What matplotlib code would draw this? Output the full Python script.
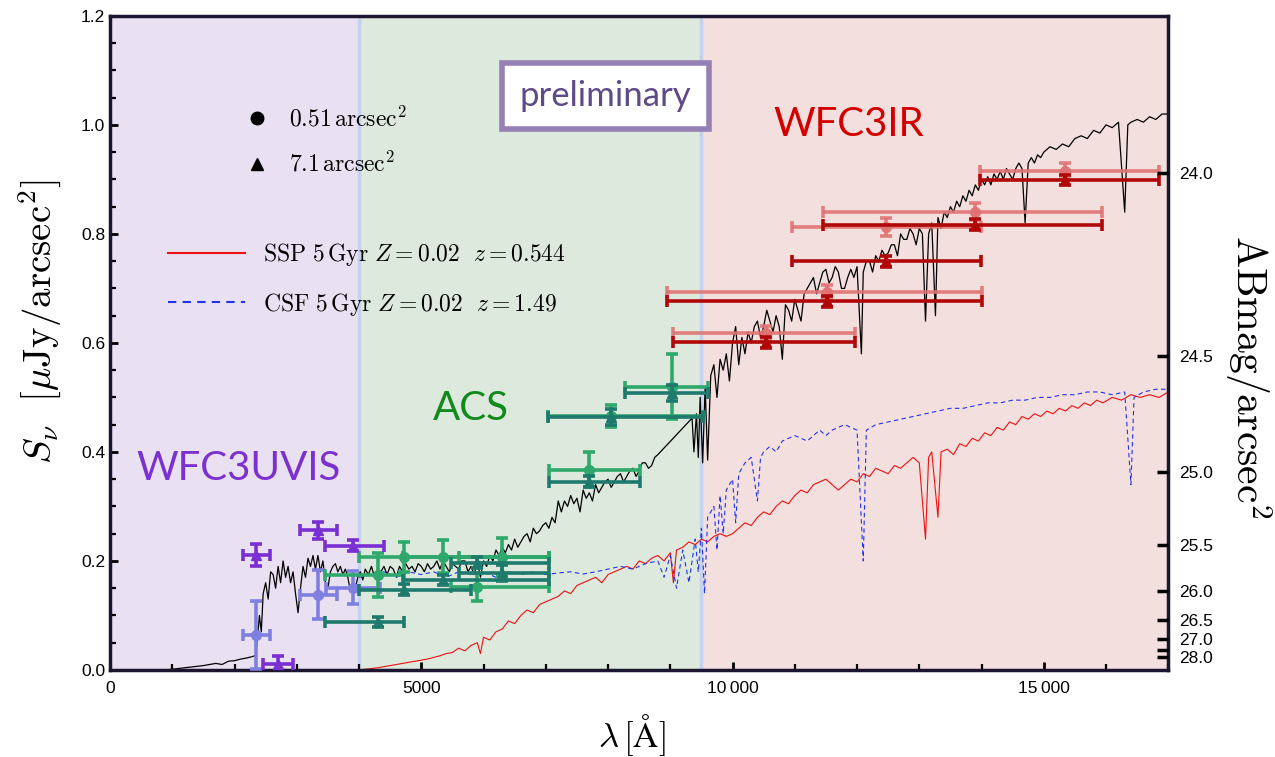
import numpy as np
import matplotlib
matplotlib.use("Agg")
import matplotlib.pyplot as plt
from matplotlib.lines import Line2D
from matplotlib.ticker import MultipleLocator, FixedLocator

plt.rcParams['mathtext.fontset'] = 'cm'
plt.rcParams['font.family'] = ['Liberation Sans', 'DejaVu Sans']

# instrument bands (Angstrom)
band_names = ['WFC3UVIS', 'ACS', 'WFC3IR']
band_lo = [0, 4000, 9500]
band_hi = [4000, 9500, 17000]

# black spectrum
bk_wl = [900, 1200, 1500, 1700, 1800, 1900, 2000, 2100, 2200, 2300, 2340, 2370, 2400, 2430, 2460,
         2500, 2540, 2580, 2620, 2660, 2700, 2740, 2780, 2820, 2860, 2900, 2940, 2980, 3020, 3060,
         3100, 3140, 3180, 3220, 3260, 3300, 3340, 3380, 3420, 3460, 3500, 3540, 3580, 3620, 3660,
         3700, 3740, 3780, 3820, 3860, 3900, 3940, 3980, 4020, 4060, 4100, 4150, 4200, 4250, 4300,
         4350, 4400, 4450, 4500, 4550, 4600, 4650, 4700, 4750, 4800, 4850, 4900, 4950, 5000, 5050,
         5100, 5150, 5200, 5250, 5300, 5350, 5400, 5450, 5500, 5550, 5600, 5650, 5700, 5750, 5800,
         5850, 5900, 5950, 6000, 6050, 6100, 6150, 6200, 6250, 6300, 6350, 6400, 6450, 6500, 6550,
         6600, 6650, 6700, 6750, 6800, 6850, 6900, 6950, 7000, 7050, 7100, 7150, 7200, 7250, 7300,
         7350, 7400, 7450, 7500, 7550, 7600, 7650, 7700, 7750, 7800, 7850, 7900, 7950, 8000, 8050,
         8100, 8150, 8200, 8250, 8300, 8350, 8400, 8450, 8500, 8550, 8600, 8650, 8700, 8750, 8800,
         9350, 9380, 9420, 9450, 9480, 9520, 9560, 9600, 9650, 9700, 9750, 9800, 9850, 9900, 9950,
         10000, 10050, 10100, 10150, 10200, 10250, 10300, 10350, 10400, 10450, 10500, 10550, 10600,
         10650, 10700, 10750, 10800, 10850, 10900, 10950, 11000, 11050, 11100, 11150, 11200, 11250,
         11300, 11350, 11400, 11450, 11500, 11550, 11600, 11650, 11700, 11750, 11800, 11850, 11900,
         11950, 12000, 12070, 12100, 12150, 12200, 12250, 12300, 12350, 12400, 12450, 12500, 12550,
         12600, 12650, 12700, 12750, 12800, 12850, 12900, 12950, 13000, 13050, 13100, 13150, 13200,
         13260, 13300, 13350, 13400, 13450, 13500, 13550, 13600, 13650, 13700, 13750, 13800, 13850,
         13900, 13950, 14000, 14050, 14100, 14150, 14200, 14250, 14300, 14350, 14400, 14450, 14500,
         14550, 14600, 14650, 14700, 14750, 14800, 14850, 14900, 14950, 15000, 15100, 15200, 15300,
         15400, 15500, 15600, 15700, 15800, 15900, 16000, 16100, 16200, 16300, 16350, 16400, 16500,
         16600, 16700, 16800, 16900, 17000]
bk_f = [0.0, 0.004, 0.008, 0.012, 0.010, 0.016, 0.017, 0.020, 0.022, 0.025, 0.027, 0.06, 0.10, 0.07, 0.14,
        0.16, 0.13, 0.18, 0.175, 0.15, 0.19, 0.16, 0.20, 0.17, 0.19, 0.16, 0.18, 0.14, 0.105, 0.15,
        0.19, 0.17, 0.205, 0.19, 0.21, 0.185, 0.21, 0.18, 0.20, 0.16, 0.15, 0.18, 0.19, 0.195, 0.18,
        0.19, 0.175, 0.185, 0.17, 0.145, 0.16, 0.15, 0.17, 0.18, 0.165, 0.185, 0.175, 0.19, 0.17, 0.185,
        0.18, 0.19, 0.175, 0.19, 0.185, 0.17, 0.19, 0.18, 0.195, 0.185, 0.19, 0.18, 0.195, 0.19, 0.18,
        0.195, 0.185, 0.19, 0.20, 0.185, 0.2, 0.19, 0.18, 0.195, 0.19, 0.185, 0.20, 0.20, 0.18, 0.19,
        0.175, 0.20, 0.17, 0.2, 0.19, 0.21, 0.20, 0.22, 0.21, 0.225, 0.215, 0.23, 0.22, 0.24, 0.225,
        0.235, 0.245, 0.25, 0.235, 0.26, 0.25, 0.255, 0.265, 0.27, 0.26, 0.28, 0.27, 0.31, 0.29, 0.31,
        0.30, 0.32, 0.305, 0.315, 0.29, 0.33, 0.315, 0.325, 0.31, 0.34, 0.325, 0.335, 0.345, 0.35, 0.335,
        0.345, 0.355, 0.36, 0.345, 0.355, 0.365, 0.37, 0.355, 0.365, 0.38, 0.38, 0.37, 0.375, 0.39, 0.395,
        0.462, 0.40, 0.47, 0.39, 0.50, 0.38, 0.52, 0.385, 0.54, 0.56, 0.50, 0.57, 0.55, 0.58, 0.53,
        0.60, 0.63, 0.56, 0.61, 0.58, 0.62, 0.60, 0.63, 0.64, 0.61, 0.63, 0.66, 0.64,
        0.62, 0.65, 0.63, 0.57, 0.67, 0.66, 0.64, 0.68, 0.66, 0.64, 0.69, 0.70, 0.71,
        0.72, 0.69, 0.71, 0.73, 0.735, 0.71, 0.72, 0.74, 0.73, 0.70, 0.70, 0.72, 0.735,
        0.72, 0.74, 0.58, 0.73, 0.75, 0.75, 0.73, 0.76, 0.75, 0.77, 0.76, 0.765, 0.78,
        0.78, 0.76, 0.80, 0.79, 0.79, 0.81, 0.80, 0.78, 0.81, 0.80, 0.64, 0.80, 0.82,
        0.65, 0.83, 0.81, 0.84, 0.83, 0.85, 0.84, 0.86, 0.85, 0.87, 0.86, 0.88, 0.87,
        0.89, 0.88, 0.90, 0.89, 0.905, 0.89, 0.91, 0.90, 0.915, 0.90, 0.92, 0.91, 0.90,
        0.92, 0.93, 0.92, 0.82, 0.93, 0.94, 0.93, 0.945, 0.94, 0.95, 0.96, 0.955, 0.965,
        0.96, 0.975, 0.98, 0.975, 0.99, 0.985, 1.0, 0.995, 1.005, 0.84, 1.0, 1.005, 1.01,
        1.005, 1.015, 1.01, 1.02, 1.02]

# SSP 5 Gyr model (red)
ssp_wl = [4000, 4300, 4600, 4900, 5100, 5300, 5400, 5500, 5600, 5700, 5800, 5900, 5950, 6000, 6100,
          6200, 6300, 6400, 6500, 6600, 6700, 6800, 6900, 7000, 7100, 7200, 7300, 7400, 7500, 7600,
          7700, 7800, 7900, 8000, 8100, 8200, 8300, 8400, 8500, 8600, 8700, 8800, 8900, 9000, 9050,
          9100, 9200, 9300, 9400, 9500, 9600, 9700, 9800, 9900, 10000, 10100, 10200, 10300, 10400,
          10500, 10600, 10700, 10800, 10900, 11000, 11100, 11200, 11300, 11400, 11500, 11600, 11700,
          11800, 11900, 12000, 12100, 12200, 12300, 12400, 12500, 12600, 12700, 12800, 12900, 13000,
          13100, 13150, 13200, 13300, 13350, 13450, 13550, 13650, 13750, 13850, 13950, 14050, 14150,
          14250, 14350, 14450, 14550, 14650, 14750, 14850, 14950, 15050, 15150, 15250, 15350, 15450,
          15550, 15650, 15750, 15850, 15950, 16100, 16250, 16400, 16550, 16700, 16850, 17000]
ssp_f = [0.0, 0.004, 0.01, 0.016, 0.02, 0.026, 0.03, 0.032, 0.04, 0.035, 0.045, 0.05, 0.03, 0.06, 0.055,
         0.07, 0.075, 0.09, 0.085, 0.10, 0.11, 0.105, 0.12, 0.125, 0.13, 0.135, 0.145, 0.14, 0.155, 0.16,
         0.165, 0.17, 0.16, 0.175, 0.18, 0.185, 0.19, 0.185, 0.2, 0.195, 0.205, 0.21, 0.2, 0.215, 0.16,
         0.22, 0.225, 0.235, 0.23, 0.24, 0.235, 0.245, 0.25, 0.245, 0.25, 0.26, 0.27, 0.265, 0.28,
         0.29, 0.285, 0.30, 0.31, 0.305, 0.32, 0.33, 0.325, 0.34, 0.345, 0.35, 0.34, 0.33,
         0.34, 0.35, 0.345, 0.36, 0.355, 0.37, 0.365, 0.36, 0.375, 0.37, 0.38, 0.39, 0.38,
         0.24, 0.39, 0.40, 0.28, 0.40, 0.405, 0.395, 0.415, 0.41, 0.425, 0.42, 0.435, 0.43,
         0.445, 0.44, 0.455, 0.45, 0.465, 0.46, 0.47, 0.465, 0.475, 0.47, 0.48, 0.475, 0.485,
         0.48, 0.49, 0.485, 0.495, 0.49, 0.50, 0.495, 0.505, 0.50, 0.505, 0.50, 0.51]

# CSF 5 Gyr model (blue dashed)
csf_wl = [4000, 4200, 4400, 4600, 4800, 5000, 5200, 5400, 5600, 5800, 6000, 6200, 6400, 6600, 6800,
          7000, 7200, 7400, 7600, 7800, 8000, 8200, 8400, 8600, 8800, 8900, 9000, 9100, 9200, 9300,
          9400, 9450, 9500, 9550, 9600, 9700, 9750, 9800, 9850, 9900, 10000, 10050, 10100, 10200,
          10300, 10400, 10450, 10500, 10600, 10700, 10800, 11000, 11200, 11400, 11500, 11600, 11800,
          12000, 12100, 12150, 12300, 12500, 12700, 12900, 13100, 13300, 13500, 13700, 13900, 14100,
          14300, 14500, 14700, 14900, 15100, 15300, 15500, 15700, 15900, 16100, 16300, 16400, 16450,
          16600, 16800, 17000]
csf_f = [0.17, 0.175, 0.18, 0.17, 0.18, 0.175, 0.18, 0.17, 0.18, 0.175, 0.18, 0.17, 0.18, 0.175, 0.18,
         0.175, 0.178, 0.18, 0.176, 0.18, 0.185, 0.19, 0.185, 0.195, 0.20, 0.17, 0.21, 0.15, 0.22, 0.16,
         0.24, 0.18, 0.26, 0.14, 0.28, 0.30, 0.22, 0.32, 0.25, 0.33, 0.35, 0.27, 0.36, 0.38,
         0.39, 0.31, 0.39, 0.40, 0.41, 0.40, 0.42, 0.43, 0.42, 0.44, 0.43, 0.44, 0.45,
         0.44, 0.20, 0.44, 0.45, 0.455, 0.46, 0.465, 0.47, 0.475, 0.48, 0.48, 0.485, 0.49,
         0.49, 0.495, 0.495, 0.50, 0.50, 0.505, 0.505, 0.51, 0.51, 0.505, 0.51, 0.34, 0.50,
         0.51, 0.515, 0.515]

# photometry: circles = 0.51 arcsec^2, triangles = 7.1 arcsec^2
uv_c_x = [2350, 3340, 3900]
uv_c_y = [0.064, 0.138, 0.151]
uv_c_xl = [2130, 3050, 3470]
uv_c_xr = [2570, 3640, 4330]
uv_c_ye = [0.062, 0.045, 0.03]

uv_t_x = [2350, 3340, 3900, 2700]
uv_t_y = [0.211, 0.256, 0.228, 0.01]
uv_t_xl = [2130, 3050, 3450, 2460]
uv_t_xr = [2570, 3640, 4400, 2940]
uv_t_ye = [0.02, 0.015, 0.01, 0.015]

acs_c_x = [4300, 4730, 5350, 5900, 6300, 7700, 8040, 9020]
acs_c_y = [0.174, 0.207, 0.208, 0.152, 0.207, 0.367, 0.466, 0.520]
acs_c_xl = [3450, 4000, 4700, 5470, 5600, 7050, 7030, 8270]
acs_c_xr = [4730, 7050, 7050, 7050, 7050, 8520, 9520, 9600]
acs_c_ye = [0.04, 0.027, 0.03, 0.025, 0.035, 0.032, 0.021, 0.06]

acs_t_x = [4300, 4730, 5350, 5900, 6300, 7700, 8040, 9020]
acs_t_y = [0.088, 0.147, 0.165, 0.197, 0.178, 0.345, 0.464, 0.508]
acs_t_xl = [3450, 4000, 4700, 5470, 5600, 7050, 7030, 8270]
acs_t_xr = [4730, 5800, 7050, 7050, 7050, 8520, 9520, 9600]
acs_t_ye = [0.01, 0.01, 0.01, 0.01, 0.015, 0.01, 0.015, 0.015]

ir_c_x = [10530, 11510, 12460, 13900, 15340]
ir_c_y = [0.619, 0.694, 0.813, 0.841, 0.915]
ir_c_xl = [9050, 8950, 10960, 11460, 13970]
ir_c_xr = [11960, 14000, 13990, 15930, 16850]
ir_c_ye = [0.012, 0.012, 0.017, 0.015, 0.015]

ir_t_x = [10530, 11510, 12460, 13900, 15340]
ir_t_y = [0.601, 0.676, 0.750, 0.817, 0.899]
ir_t_xl = [9050, 8950, 10960, 11460, 13970]
ir_t_xr = [11960, 14000, 13990, 15930, 16850]
ir_t_ye = [0.01, 0.01, 0.01, 0.01, 0.01]

# right axis ticks (AB mag / arcsec^2)
mag_ticks = [24.0, 24.5, 25.0, 25.5, 26.0, 26.5, 27.0, 27.5, 28.0]
mag_labels = ['24.0', '24.5', '25.0', '25.5', '26.0', '26.5', '27.0', '', '28.0']

fig = plt.figure(figsize=(12.75, 7.57), dpi=100)
ax = fig.add_axes([0.0863, 0.115, 0.8300, 0.864])

band_cols = ['#e9e1f1', '#dde9dc', '#f3dfdd']
for lo, hi, c in zip(band_lo, band_hi, band_cols):
    ax.axvspan(lo, hi, color=c, lw=0, zorder=0)
for b in band_lo[1:]:
    ax.axvline(b, color='#c4d2ee', lw=2.5, zorder=0.5)

ax.plot(bk_wl, bk_f, color='black', lw=0.9, zorder=2)
ax.plot(ssp_wl, ssp_f, color='#ee1111', lw=0.8, zorder=2)
ax.plot(csf_wl, csf_f, color='#2233ee', lw=0.8, ls=(0, (4, 3)), zorder=2)


def pts(x, y, xl, xr, ye, col, mk, ms, z, a=1.0):
    x = np.array(x)
    xe = [x - np.array(xl), np.array(xr) - x]
    ax.errorbar(x, y, xerr=xe, yerr=ye, fmt=mk, color=col, ms=ms, elinewidth=2.6,
                 capsize=4, capthick=2.6, zorder=z, alpha=a)


pts(uv_c_x, uv_c_y, uv_c_xl, uv_c_xr, uv_c_ye, '#7f7fe0', 'o', 7, 4)
pts(uv_t_x, uv_t_y, uv_t_xl, uv_t_xr, uv_t_ye, '#7a2fd3', '^', 7, 5)
pts(acs_c_x, acs_c_y, acs_c_xl, acs_c_xr, acs_c_ye, '#2ea86c', 'o', 7, 4)
pts(acs_t_x, acs_t_y, acs_t_xl, acs_t_xr, acs_t_ye, '#1e7a6c', '^', 7, 5)
pts(ir_c_x, ir_c_y, ir_c_xl, ir_c_xr, ir_c_ye, '#e07272', 'o', 7, 4, 0.9)
pts(ir_t_x, ir_t_y, ir_t_xl, ir_t_xr, ir_t_ye, '#b00808', '^', 7, 5)

ax.set_xlim(0, 17000)
ax.set_ylim(0, 1.2)

ax.text(2060, 0.37, 'WFC3UVIS', color='#7b30d0', fontsize=29, family='Lato',
        ha='center', va='center')
ax.text(5790, 0.48, 'ACS', color='#118a1c', fontsize=29, family='Lato',
        ha='center', va='center')
ax.text(11870, 1.0, 'WFC3IR', color='#d40000', fontsize=29, family='Lato',
        ha='center', va='center')
ax.text(7960, 1.053, 'preliminary', color='#5e4a86', fontsize=25, family='Lato',
        ha='center', va='center', zorder=6,
        bbox=dict(boxstyle='square,pad=0.5', fc='white', ec='#9580b4', lw=4))

h1 = [Line2D([], [], marker='o', color='black', ls='none', ms=9),
      Line2D([], [], marker='^', color='black', ls='none', ms=8)]
leg1 = ax.legend(h1, [r'$0.51\,\mathrm{arcsec}^2$', r'$7.1\,\mathrm{arcsec}^2$'],
                 loc='upper left', bbox_to_anchor=(0.108, 0.894), frameon=False,
                 fontsize=17, handlelength=1.0, handletextpad=0.85, labelspacing=0.85)
ax.add_artist(leg1)
h2 = [Line2D([], [], color='#ee1111', lw=1.5),
      Line2D([], [], color='#2233ee', lw=1.5, ls=(0, (4, 3)))]
ax.legend(h2, [r'$\mathrm{SSP}\ 5\,\mathrm{Gyr}\ Z=0.02\ \ z=0.544$',
               r'$\mathrm{CSF}\ 5\,\mathrm{Gyr}\ Z=0.02\ \ z=1.49$'],
          loc='upper left', bbox_to_anchor=(0.035, 0.688), frameon=False,
          fontsize=17, handlelength=3.26, handletextpad=0.76, labelspacing=0.95)

ax.xaxis.set_major_locator(MultipleLocator(5000))
ax.xaxis.set_minor_locator(MultipleLocator(1000))
ax.yaxis.set_major_locator(MultipleLocator(0.2))
ax.yaxis.set_minor_locator(MultipleLocator(0.05))
ax.set_xticks([0, 5000, 10000, 15000])
ax.set_xticklabels(['0', '5000', '10\u2009000', '15\u2009000'])
ax.yaxis.set_major_formatter(matplotlib.ticker.FormatStrFormatter('%.1f'))
ax.tick_params(which='both', direction='in', labelsize=12.5, color='black')
ax.tick_params(which='major', length=6, width=2)
ax.tick_params(which='minor', length=4, width=1.6)
ax.tick_params(axis='x', pad=8)

for s in ax.spines.values():
    s.set_linewidth(2.5)
    s.set_color('#1c1530')

ax.set_xlabel(r'$\lambda\,[\mathrm{\AA}]$', fontsize=25, va='center')
ax.xaxis.set_label_coords(0.493, -0.1)
ax.set_ylabel(r'$S_\nu\ \ [\mu\mathrm{Jy}/\mathrm{arcsec}^2]$', fontsize=28,
              va='center', ha='center')
ax.yaxis.set_label_coords(-0.066, 0.532)

ax2 = ax.twinx()
ax2.set_ylim(ax.get_ylim())
mag_pos = [10 ** ((23.9 - m) / 2.5) for m in mag_ticks]
ax2.yaxis.set_major_locator(FixedLocator(mag_pos))
ax2.set_yticklabels(mag_labels)
ax2.tick_params(direction='in', length=8, width=2.5, labelsize=12.5, pad=8)
for s in ax2.spines.values():
    s.set_visible(False)
ax2.set_ylabel(r'$\mathrm{ABmag}/\mathrm{arcsec}^2$', fontsize=30, rotation=270,
               va='center', ha='center')
ax2.yaxis.set_label_coords(1.075, 0.448)

fig.savefig('out.png', dpi=100)
